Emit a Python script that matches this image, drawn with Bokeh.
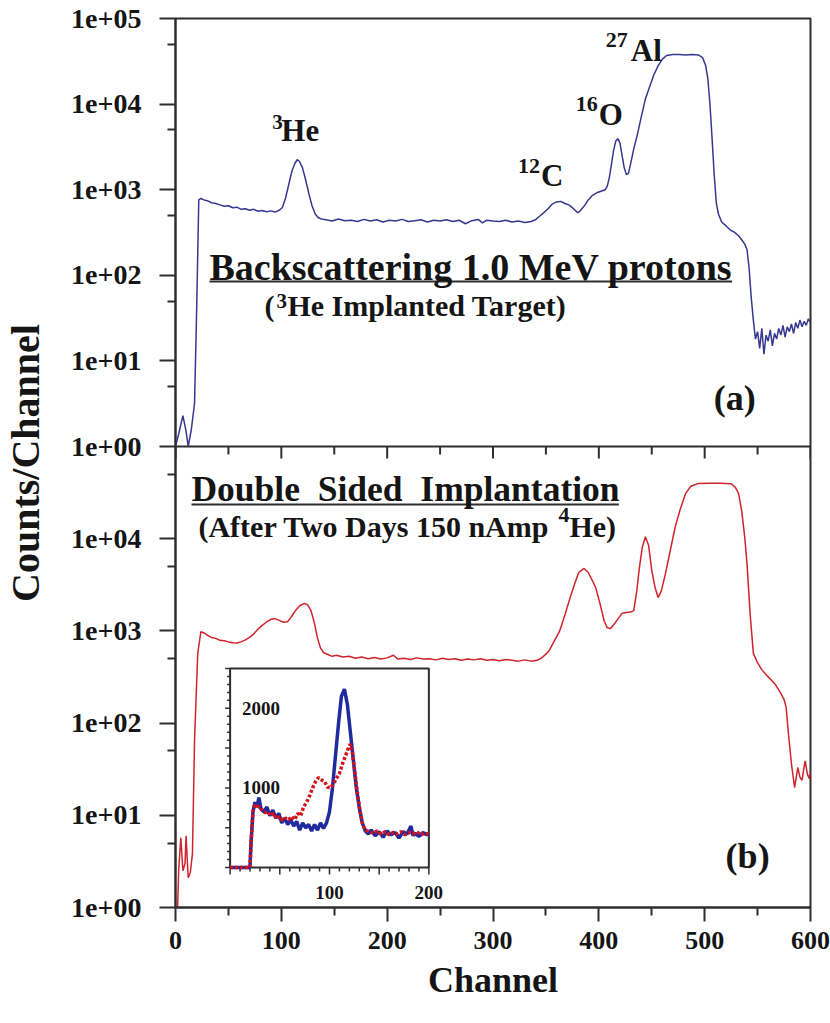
import math
from bokeh.plotting import figure
from bokeh.models import (Range1d, LogScale, LinearScale, FixedTicker,
                          CustomJSTickFormatter, Label, Span)
from bokeh.embed import file_html
from bokeh.resources import INLINE

# ---------------- data ----------------
# panel (a): backscattering spectrum, 3He implanted target
TOP_CH = [0, 3, 7, 10, 12, 15, 18, 20, 22, 24,
          27, 30, 34, 38, 42, 46, 50, 54, 58, 62,
          66, 70, 74, 78, 82, 86, 90, 94, 98, 101,
          104, 107, 110, 113, 115, 117, 120, 123, 126, 129,
          132, 135, 138, 142, 148, 154, 160, 166, 172, 178,
          184, 190, 196, 202, 208, 214, 220, 226, 232, 238,
          244, 250, 256, 262, 268, 274, 280, 286, 290, 294,
          300, 306, 312, 318, 324, 330, 336, 340, 344, 348,
          352, 356, 360, 364, 368, 372, 376, 380, 382, 386,
          390, 394, 398, 402, 406, 408, 410, 412, 414, 416,
          418, 420, 422, 424, 426, 428, 430, 433, 436, 440,
          444, 448, 452, 456, 460, 464, 470, 476, 482, 488,
          494, 498, 501, 503, 505, 507, 509, 511, 513, 516,
          520, 524, 528, 532, 535, 538, 540, 542, 544, 546,
          548, 550, 552, 554, 556, 558, 560, 562, 564, 566,
          568, 570, 572, 574, 576, 578, 580, 582, 584, 586,
          588, 590, 592, 594, 596, 598, 600]
TOP_COUNTS = [1, 1.4, 2.3, 1.5, 1, 1.6, 3.2, 40, 760, 790,
              760, 745, 705, 690, 665, 640, 650, 615, 625, 590,
              600, 575, 590, 560, 572, 552, 566, 548, 575, 620,
              800, 1150, 1650, 2050, 2240, 2150, 1800, 1300, 900, 650,
              520, 470, 455, 445, 430, 455, 435, 440, 425, 450,
              430, 445, 420, 440, 430, 450, 425, 435, 445, 420,
              440, 430, 445, 425, 440, 400, 435, 450, 410, 440,
              430, 425, 440, 420, 430, 415, 425, 445, 490, 540,
              600, 680, 720, 730, 690, 660, 600, 540, 560, 640,
              760, 860, 920, 960, 1000, 1100, 1400, 2000, 2900, 3700,
              3950, 3500, 2500, 1800, 1500, 1550, 2000, 3000, 4200, 7000,
              11500, 16000, 22000, 28000, 33500, 37000, 38000, 38000, 37500, 38000,
              37500, 35000, 28000, 20000, 10000, 4000, 1500, 700, 520, 420,
              380, 340, 320, 290, 260, 230, 200, 120, 55, 30,
              18, 22, 14, 24, 12, 20, 17, 23, 15, 21,
              18, 24, 20, 26, 19, 25, 22, 27, 21, 28,
              24, 30, 25, 29, 26, 31, 28]

# panel (b): double sided implantation
BOT_CH = [0, 2, 3, 5, 7, 9, 10, 12, 14, 16,
          18, 21, 24, 27, 30, 34, 38, 42, 46, 50,
          54, 58, 62, 66, 70, 74, 78, 82, 86, 90,
          94, 98, 102, 106, 110, 114, 118, 122, 125, 128,
          131, 134, 137, 140, 144, 148, 152, 158, 164, 170,
          176, 182, 188, 194, 200, 206, 210, 216, 222, 228,
          234, 240, 246, 252, 258, 264, 270, 276, 282, 288,
          294, 300, 306, 312, 318, 324, 330, 336, 342, 346,
          350, 353, 358, 363, 368, 372, 377, 381, 386, 390,
          394, 397, 401, 405, 408, 411, 415, 418, 422, 426,
          430, 433, 436, 438, 441, 444, 447, 450, 453, 456,
          459, 463, 467, 472, 477, 482, 487, 494, 505, 515,
          525, 529, 532, 535, 538, 540, 543, 546, 550, 554,
          557, 562, 567, 572, 575, 577, 579, 582, 585, 587,
          588, 590, 592, 594, 595, 597, 599, 600]
BOT_COUNTS = [1, 1, 2.5, 5.7, 2.5, 3.0, 6.0, 2.1, 2.4, 3.8,
              65, 570, 980, 950, 900, 850, 830, 790, 780, 760,
              745, 740, 760, 800, 850, 930, 1050, 1150, 1250, 1330,
              1360, 1300, 1240, 1260, 1450, 1700, 1900, 1990, 1900, 1660,
              1250, 850, 650, 580, 555, 530, 545, 520, 530, 505,
              520, 500, 515, 495, 510, 545, 495, 505, 490, 510,
              495, 500, 485, 505, 490, 500, 480, 495, 485, 500,
              480, 490, 475, 490, 480, 470, 485, 470, 480, 510,
              560, 610, 780, 1000, 1500, 2130, 3200, 4300, 4760, 4300,
              3500, 2950, 2000, 1290, 1080, 1060, 1200, 1350, 1550, 1580,
              1600, 1660, 2800, 4540, 8000, 10500, 8500, 4540, 3000, 2300,
              2700, 4200, 7000, 13200, 21000, 31000, 37000, 39800, 40000, 40000,
              39500, 36000, 31000, 20000, 10000, 5400, 1500, 570, 450, 380,
              345, 300, 260, 210, 180, 148, 80, 36, 20, 28,
              33, 26, 24, 34, 39, 28, 25, 30]

# inset (linear counts, channels 0-200)
INSET_BLUE_CH = [0, 20, 21, 23, 25, 27, 29, 31, 34, 37,
                 40, 43, 46, 49, 52, 55, 58, 61, 64, 67,
                 70, 73, 76, 79, 82, 85, 88, 91, 94, 97,
                 100, 103, 106, 109, 112, 115, 118, 121, 124, 127,
                 130, 133, 136, 139, 142, 146, 150, 154, 158, 162,
                 166, 170, 174, 178, 182, 184, 186, 190, 194, 198,
                 200]
INSET_BLUE_COUNTS = [0, 0, 300, 700, 820, 760, 880, 740, 700, 760,
                     650, 720, 620, 680, 560, 620, 540, 600, 520, 580,
                     470, 560, 500, 540, 460, 540, 470, 560, 490, 560,
                     700, 1000, 1400, 1800, 2150, 2240, 2050, 1700, 1350, 1000,
                     750, 560, 460, 420, 470, 400, 450, 380, 460, 410,
                     440, 370, 450, 420, 520, 400, 430, 390, 440, 410,
                     430]
INSET_RED_CH = [0, 20, 21, 23, 25, 27, 29, 32, 35, 38,
                41, 44, 47, 50, 53, 56, 59, 62, 65, 68,
                71, 74, 77, 80, 83, 86, 89, 92, 95, 98,
                101, 104, 107, 110, 113, 116, 119, 121, 123, 125,
                127, 129, 131, 133, 136, 140, 144, 148, 152, 156,
                160, 164, 168, 172, 176, 180, 184, 188, 192, 196,
                200]
INSET_RED_COUNTS = [0, 0, 300, 700, 800, 740, 770, 720, 690, 700,
                    650, 680, 610, 640, 590, 620, 600, 640, 600, 680,
                    650, 760, 820, 900, 1000, 1080, 1130, 1100, 1080, 1010,
                    1000, 1050, 1120, 1180, 1300, 1400, 1500, 1550, 1450, 1250,
                    1050, 850, 700, 560, 470, 450, 430, 460, 420, 450,
                    410, 440, 420, 450, 410, 440, 420, 450, 410, 430,
                    420]

# ticks
X_MAJOR = [0, 100, 200, 300, 400, 500, 600]
X_MINOR = [50, 150, 250, 350, 450, 550]
TOP_Y_TICKS = [1, 10, 100, 1000, 10000, 100000]
BOT_Y_TICKS = [1, 10, 100, 1000, 10000]
Y_MINOR = [5, 50, 500, 5000, 50000]
INSET_X_MAJOR = [0, 50, 100, 150, 200]
INSET_X_MINOR = [10, 20, 30, 40, 60, 70, 80, 90, 110, 120, 130, 140, 160, 170, 180, 190]
INSET_Y_MAJOR = [0, 500, 1000, 1500, 2000, 2500]
INSET_Y_MINOR = [100, 200, 300, 400, 600, 700, 800, 900, 1100, 1200, 1300, 1400,
                 1600, 1700, 1800, 1900, 2100, 2200, 2300, 2400]
INSET_X_LABELS = [100, 200]
INSET_Y_LABELS = [2000, 1000]

# ---------------- geometry ----------------
WIDTH, HEIGHT = 830, 1023
B_LEFT, B_RIGHT, B_TOP, B_BOTTOM = 174, 20, 18, 116
FRAME_W = WIDTH - B_LEFT - B_RIGHT
FRAME_H = HEIGHT - B_TOP - B_BOTTOM
TOP_PX = 428                      # height of panel (a)
BOTTOM_PX = FRAME_H - TOP_PX      # height of panel (b)
K = TOP_PX / BOTTOM_PX
DEC_B = BOTTOM_PX / 5.0
PX_PER_CH = FRAME_W / 600.0


def to_main(v):
    """position of a panel-(a) value on the main (panel-b) log scale"""
    return 10 ** (5 + math.log10(v) * K)


MAIN_END = to_main(1e5) * 1.0003
TOP_START = 10 ** (-5 / K)
TOP_END = 10 ** ((math.log10(MAIN_END) - 5) / K)

# inset placement inside panel (b)
INSET_CH0, INSET_CH1 = 51.6, 239.4
INSET_Y0_PX, INSET_H_PX, INSET_YMAX = 40, 199, 2500
iy_per_px = INSET_YMAX / INSET_H_PX
iy_start = -INSET_Y0_PX * iy_per_px
iy_end = iy_start + FRAME_H * iy_per_px
ix_per_ch = 200.0 / (INSET_CH1 - INSET_CH0)
ix_start = -INSET_CH0 * ix_per_ch
ix_end = (600 - INSET_CH0) * ix_per_ch
ix_per_px = ix_per_ch / PX_PER_CH

FONT = "Liberation Serif"
INK = "#151515"
AXC = "#2e2e2e"
BLUE = "#36388f"
RED = "#d0232b"

p = figure(width=WIDTH, height=HEIGHT, x_range=Range1d(0, 600),
           y_range=Range1d(1, MAIN_END), y_axis_type="log",
           output_backend="svg", toolbar_location=None,
           min_border_left=B_LEFT, min_border_right=B_RIGHT,
           min_border_top=B_TOP, min_border_bottom=B_BOTTOM)
p.extra_y_ranges = {"top": Range1d(TOP_START, TOP_END),
                    "inset": Range1d(iy_start, iy_end)}
p.extra_x_ranges = {"inset": Range1d(ix_start, ix_end)}
p.extra_y_scales = {"top": LogScale(), "inset": LinearScale()}
p.extra_x_scales = {"inset": LinearScale()}

p.xgrid.visible = False
p.ygrid.visible = False
p.outline_line_color = AXC
p.outline_line_width = 2
p.background_fill_color = "white"
p.border_fill_color = "white"

# y axis: panel (b) decades at the bottom, panel (a) decades above
yax = p.yaxis[0]
yax.ticker = FixedTicker(ticks=BOT_Y_TICKS + [to_main(t) for t in TOP_Y_TICKS],
                         minor_ticks=Y_MINOR + [to_main(t) for t in Y_MINOR])
yax.formatter = CustomJSTickFormatter(args=dict(k=1.0 / K), code="""
    const L = Math.log10(tick);
    const e = L < 4.95 ? Math.round(L) : Math.round((L - 5) * k);
    return "1e+0" + e;
""")
yax.major_tick_in = 0
yax.major_tick_out = 16
yax.minor_tick_in = 0
yax.minor_tick_out = 8
yax.major_label_standoff = 18
yax.major_label_text_font_size = "28px"
yax.axis_label = "Counts/Channel"
yax.axis_label_text_font = FONT
yax.axis_label_text_font_style = "bold"
yax.axis_label_text_font_size = "40px"
yax.axis_label_text_color = INK
yax.axis_label_standoff = 20

xax = p.xaxis[0]
xax.ticker = FixedTicker(ticks=X_MAJOR, minor_ticks=X_MINOR)
xax.major_tick_in = 0
xax.major_tick_out = 14
xax.minor_tick_in = 0
xax.minor_tick_out = 8
xax.major_label_standoff = 10
xax.major_label_text_font_size = "26px"
xax.axis_label = "Channel"
xax.axis_label_text_font = FONT
xax.axis_label_text_font_style = "bold"
xax.axis_label_text_font_size = "36px"
xax.axis_label_text_color = INK
xax.axis_label_standoff = 8

for ax in (xax, yax):
    ax.axis_line_width = 2
    ax.axis_line_color = AXC
    ax.major_tick_line_width = 2
    ax.major_tick_line_color = AXC
    ax.minor_tick_line_width = 2
    ax.minor_tick_line_color = AXC
    ax.major_label_text_font = FONT
    ax.major_label_text_font_style = "bold"
    ax.major_label_text_color = INK

# spectra
p.line(TOP_CH, TOP_COUNTS, y_range_name="top", line_color=BLUE, line_width=1.5)
p.line(BOT_CH, BOT_COUNTS, line_color=RED, line_width=1.5)

# shared border between the two panels, with the ticks of panel (a)
p.add_layout(Span(location=1e5, dimension="width", line_color=AXC, line_width=2))
p.segment(x0=X_MAJOR, y0=[1e5] * len(X_MAJOR), x1=X_MAJOR,
          y1=[10 ** (5 - 12 / DEC_B)] * len(X_MAJOR), line_color=AXC, line_width=2)
p.segment(x0=X_MINOR, y0=[1e5] * len(X_MINOR), x1=X_MINOR,
          y1=[10 ** (5 - 8 / DEC_B)] * len(X_MINOR), line_color=AXC, line_width=2)

# inset
IR = dict(x_range_name="inset", y_range_name="inset")
p.quad(left=[0], right=[200], bottom=[0], top=[INSET_YMAX], fill_color="white",
       line_color=AXC, line_width=2, **IR)
p.segment(x0=INSET_X_MAJOR, y0=[0] * len(INSET_X_MAJOR), x1=INSET_X_MAJOR,
          y1=[-7 * iy_per_px] * len(INSET_X_MAJOR), line_color=AXC, line_width=1.5, **IR)
p.segment(x0=INSET_X_MINOR, y0=[0] * len(INSET_X_MINOR), x1=INSET_X_MINOR,
          y1=[-4 * iy_per_px] * len(INSET_X_MINOR), line_color=AXC, line_width=1.5, **IR)
p.segment(x0=[0] * len(INSET_Y_MAJOR), y0=INSET_Y_MAJOR, x1=[-5 * ix_per_px] * len(INSET_Y_MAJOR),
          y1=INSET_Y_MAJOR, line_color=AXC, line_width=1.5, **IR)
p.segment(x0=[0] * len(INSET_Y_MINOR), y0=INSET_Y_MINOR, x1=[-3 * ix_per_px] * len(INSET_Y_MINOR),
          y1=INSET_Y_MINOR, line_color=AXC, line_width=1.5, **IR)
p.line(INSET_BLUE_CH, INSET_BLUE_COUNTS, line_color="#1f2b9e", line_width=3.5, **IR)
p.line(INSET_RED_CH, INSET_RED_COUNTS, line_color="#d3121c", line_width=3.5,
       line_dash="3 2", **IR)


def add_text(text, x, y, size, yr="default", xr="default", dx=0, dy=0,
             align="left", baseline="middle", angle=0.0):
    p.add_layout(Label(x=x, y=y, text=text, x_range_name=xr, y_range_name=yr,
                       x_offset=dx, y_offset=dy, angle=angle,
                       text_font=FONT, text_font_style="bold",
                       text_font_size=f"{size}px", text_color=INK,
                       text_align=align, text_baseline=baseline))


for lx, lab in zip(INSET_X_LABELS, ["100", "200"]):
    add_text(lab, lx, -25 * iy_per_px, 19, yr="inset", xr="inset", align="center")
for ly, lab in zip(INSET_Y_LABELS, ["2000", "1000"]):
    add_text(lab, 12, ly, 19, yr="inset", xr="inset")

# panel (a) annotations (anchors at glyph centres)
add_text("He", 100.0, 4920, 31, yr="top")
add_text("3", 100.0, 4920, 21, yr="top", dx=-9, dy=8.5)
add_text("C", 345.3, 1465, 31, yr="top")
add_text("12", 345.3, 1465, 22, yr="top", dx=-23, dy=10)
add_text("O", 400.0, 7660, 31, yr="top")
add_text("16", 400.0, 7660, 22, yr="top", dx=-23, dy=10)
add_text("Al", 430.2, 42300, 31, yr="top")
add_text("27", 430.2, 42300, 22, yr="top", dx=-25, dy=10.5)

TITLE_A = "Backscattering 1.0 MeV protons"
add_text(TITLE_A, 32.1, 125, 38, yr="top")
p.segment(x0=[32.1], y0=[84.7], x1=[32.1 + 13.776 * 38 / PX_PER_CH], y1=[84.7],
          y_range_name="top", line_color=AXC, line_width=2)
add_text("(", 84.0, 44.4, 30, yr="top")
add_text("3", 84.0, 44.4, 21, yr="top", dx=12, dy=4.5)
add_text("He Implanted Target)", 84.0, 44.4, 30, yr="top", dx=23)
add_text("(a)", 508.5, 3.64, 36, yr="top")

# panel (b) annotations
TITLE_B = "Double\u00a0 Sided\u00a0 Implantation"
add_text(TITLE_B, 15.1, 34600, 35.5)
p.segment(x0=[15.1], y0=[23490], x1=[15.1 + 12.058 * 35.5 / PX_PER_CH], y1=[23490],
          line_color=AXC, line_width=2)
add_text("(After Two Days 150 nAmp", 21.7, 13560, 30)
add_text("4", 21.7, 13560, 22, dx=360, dy=11.5)
add_text("He)", 21.7, 13560, 30, dx=371)
add_text("(b)", 519.8, 3.66, 36)

open("out.html", "w").write(file_html(p, INLINE))
